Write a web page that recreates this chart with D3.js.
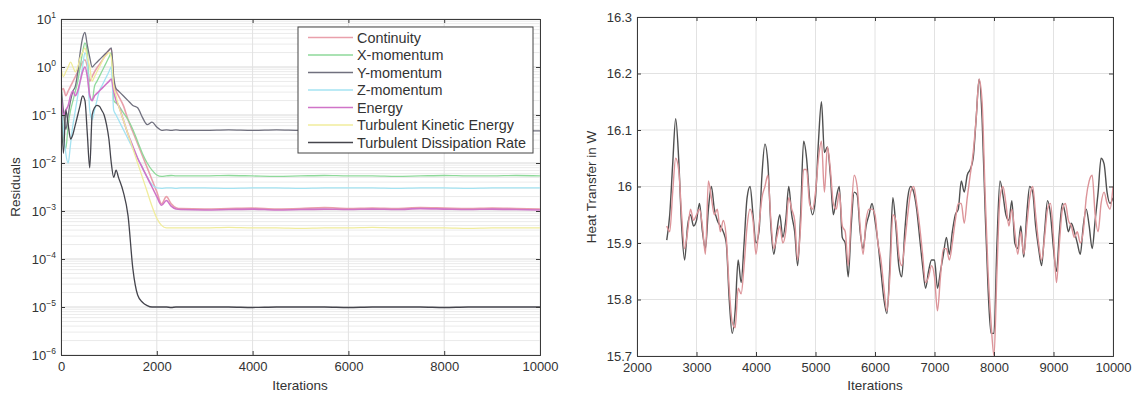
<!DOCTYPE html>
<html><head><meta charset="utf-8">
<script src="https://cdn.jsdelivr.net/npm/d3@7"></script>
<style>
html,body{margin:0;padding:0;background:#fff;}
svg{display:block;font-family:"Liberation Sans",Arial,sans-serif;}
</style></head>
<body>
<svg id="chart" width="1138" height="394"></svg>
<script>
// ---------- Left chart data (residuals, log10 of value) ----------
const resIter = [0,50,100,150,200,250,300,350,400,450,500,550,600,650,700,750,800,850,900,950,1000,1050,1100,1150,1200,
  1300,1400,1500,1600,1700,1800,1900,2000,2100,2200,2300,2400,2500,
  3000,3500,4000,4500,5000,5500,6000,6500,7000,7500,8000,8500,9000,9500,10000];
const continuityLog = [-0.5,-0.45,-0.6,-0.5,-0.4,-0.3,-0.2,-0.1,0.0,0.1,0.15,0.0,-0.3,-0.2,-0.1,-0.02,0.05,0.12,0.2,0.28,0.35,0.38,-0.3,-0.5,-0.6,
  -0.8,-1.1,-1.35,-1.6,-1.85,-2.1,-2.35,-2.6,-2.85,-2.7,-2.85,-2.93,-2.95,
  -2.96,-2.95,-2.94,-2.96,-2.95,-2.93,-2.95,-2.94,-2.95,-2.93,-2.94,-2.95,-2.94,-2.95,-2.96];
const xMomLog = [-0.1,-1.4,-1.7,-1.2,-0.9,-0.7,-0.5,-0.3,0.0,0.3,0.5,0.3,-0.6,-0.7,-0.4,-0.3,-0.2,-0.1,0.0,0.1,0.2,0.3,-0.7,-0.75,-0.8,
  -0.95,-1.1,-1.3,-1.55,-1.8,-2.0,-2.15,-2.25,-2.28,-2.27,-2.26,-2.27,-2.27,
  -2.27,-2.26,-2.27,-2.28,-2.27,-2.26,-2.27,-2.27,-2.28,-2.27,-2.26,-2.27,-2.27,-2.26,-2.27];
const yMomLog = [-0.4,-0.9,-1.3,-1.0,-0.7,-0.5,-0.4,-0.1,0.3,0.6,0.72,0.45,0.2,0.0,0.05,0.1,0.15,0.2,0.25,0.3,0.35,0.4,-0.2,-0.45,-0.5,
  -0.6,-0.7,-0.8,-0.85,-1.05,-1.2,-1.15,-1.25,-1.32,-1.31,-1.32,-1.31,-1.32,
  -1.32,-1.31,-1.32,-1.31,-1.32,-1.32,-1.31,-1.32,-1.33,-1.32,-1.32,-1.33,-1.32,-1.33,-1.33];
const zMomLog = [-0.8,-1.3,-1.8,-2.0,-1.6,-1.2,-0.9,-0.6,-0.3,0.0,0.3,0.1,-0.9,-1.1,-0.9,-0.7,-0.5,-0.4,-0.3,-0.2,-0.1,0.0,-0.9,-1.0,-1.1,
  -1.3,-1.5,-1.7,-1.9,-2.1,-2.3,-2.45,-2.52,-2.53,-2.52,-2.52,-2.53,-2.52,
  -2.52,-2.53,-2.52,-2.52,-2.53,-2.52,-2.52,-2.52,-2.53,-2.52,-2.52,-2.53,-2.52,-2.52,-2.52];
const energyLog = [-0.6,-1.0,-0.9,-0.8,-0.6,-0.5,-0.6,-0.5,-0.3,-0.1,0.0,-0.2,-0.6,-0.7,-0.6,-0.55,-0.5,-0.45,-0.4,-0.35,-0.3,-0.25,-0.5,-0.7,-0.8,
  -1.1,-1.4,-1.65,-1.9,-2.1,-2.3,-2.5,-2.7,-2.88,-2.78,-2.9,-2.96,-2.97,
  -2.98,-2.97,-2.96,-2.98,-2.97,-2.96,-2.97,-2.96,-2.97,-2.95,-2.96,-2.97,-2.96,-2.97,-2.98];
const tkeLog = [0.0,-0.2,-0.1,0.0,0.1,0.0,-0.1,0.0,0.2,0.3,0.4,0.2,0.0,-0.3,-0.2,-0.1,0.0,0.1,0.2,0.25,0.3,0.2,-0.4,-0.6,-0.8,
  -1.1,-1.4,-1.7,-2.0,-2.3,-2.6,-2.9,-3.15,-3.3,-3.35,-3.35,-3.35,-3.35,
  -3.35,-3.34,-3.35,-3.35,-3.36,-3.35,-3.35,-3.34,-3.35,-3.35,-3.35,-3.36,-3.35,-3.35,-3.35];
const tdrLog = [-0.6,-1.8,-0.9,-1.2,-1.5,-1.4,-1.2,-1.0,-0.8,-0.6,-0.7,-1.4,-2.1,-1.0,-0.85,-0.8,-0.82,-0.9,-1.0,-1.2,-1.5,-2.0,-2.3,-2.15,-2.3,
  -2.6,-3.1,-4.2,-4.75,-4.9,-4.97,-5.0,-5.0,-5.0,-5.0,-5.01,-5.0,-5.0,
  -5.0,-5.0,-5.01,-5.0,-5.0,-5.0,-5.01,-5.0,-5.0,-5.0,-5.01,-5.0,-5.0,-5.0,-5.0];
const seriesNames = ["Continuity","X-momentum","Y-momentum","Z-momentum","Energy","Turbulent Kinetic Energy","Turbulent Dissipation Rate"];
const seriesColors = ["#e9a0ab","#8ed99a","#70707e","#a4e3f2","#d074c8","#f0ec9c","#45454d"];
const seriesLogs = [continuityLog,xMomLog,yMomLog,zMomLog,energyLog,tkeLog,tdrLog];
const resXTicks = [0,2000,4000,6000,8000,10000];
const resYExps = [1,0,-1,-2,-3,-4,-5,-6];

// ---------- Right chart data (heat transfer) ----------
const htIter = d3.range(2500, 10001, 50);
const htDark = [15.905,15.95,16.04,16.12,16.05,15.93,15.87,15.93,15.95,15.93,15.94,15.97,15.92,15.89,15.96,16.0,15.96,15.94,15.93,15.92,
  15.90,15.80,15.74,15.78,15.87,15.83,15.90,15.98,16.0,15.95,15.90,15.92,16.02,16.075,16.04,15.93,15.88,15.92,15.95,15.91,
  15.94,16.0,15.95,15.92,15.86,15.95,16.08,16.05,15.98,15.95,15.98,16.08,16.15,16.06,16.07,16.02,15.95,15.98,16.0,15.91,
  15.90,15.84,15.93,15.99,15.985,15.92,15.89,15.93,15.95,15.97,15.94,15.90,15.85,15.80,15.775,15.86,15.98,15.93,15.86,15.84,
  15.92,15.98,16.0,15.99,15.96,15.91,15.86,15.82,15.85,15.87,15.87,15.82,15.85,15.88,15.91,15.88,15.92,15.95,15.96,16.01,
  15.99,16.02,16.03,16.05,16.12,16.19,16.12,15.96,15.82,15.74,15.74,15.90,16.01,15.985,15.95,15.94,15.975,15.90,15.89,15.93,
  15.875,15.95,16.0,15.99,15.93,15.89,15.86,15.92,15.975,15.95,15.89,15.85,15.92,15.97,15.95,15.92,15.935,15.92,15.90,15.88,
  15.93,15.96,15.93,15.89,15.94,15.99,16.05,16.04,15.99,15.97,15.98];
const htPink = [15.93,15.92,15.99,16.05,16.03,15.95,15.89,15.92,15.96,15.94,15.95,15.96,15.93,15.88,16.01,15.98,15.95,15.96,15.92,15.94,
  15.91,15.82,15.76,15.75,15.82,15.81,15.86,15.93,15.96,15.94,15.88,15.93,15.98,16.0,16.02,15.94,15.89,15.91,15.93,15.90,
  15.92,15.98,15.96,15.94,15.87,15.93,16.03,16.03,15.97,15.96,15.99,16.05,16.08,15.99,16.07,16.03,15.97,15.96,15.99,15.93,
  15.92,15.86,15.95,16.02,16.0,15.93,15.88,15.94,15.96,15.96,15.95,15.90,15.87,15.82,15.78,15.84,15.95,15.94,15.88,15.86,
  15.90,15.95,15.99,16.0,15.97,15.93,15.88,15.83,15.84,15.86,15.84,15.78,15.84,15.89,15.89,15.87,15.90,15.94,15.97,15.97,
  15.935,15.98,16.02,16.06,16.12,16.19,16.15,15.99,15.85,15.76,15.70,15.85,15.98,16.0,15.97,15.93,15.96,15.92,15.88,15.92,
  15.88,15.93,15.98,16.0,15.95,15.90,15.87,15.91,15.96,15.97,15.91,15.83,15.90,15.96,15.97,15.94,15.93,15.91,15.92,15.90,
  15.92,15.98,16.01,16.02,15.95,15.92,15.97,15.99,15.97,15.96,16.0];
const htXTicks = [2000,3000,4000,5000,6000,7000,8000,9000,10000];
const htYTicks = [15.7,15.8,15.9,16,16.1,16.2,16.3];

// ---------- Drawing ----------
const svg = d3.select("#chart");
const axisColor = "#3a3a3a", textColor = "#333", gridColor = "#e2e2e2";
const tickFont = "13px", labelFont = "13.5px";

// Left chart
const L = {x0:61, x1:540, y0:19, y1:355};
const xL = d3.scaleLinear().domain([0,10000]).range([L.x0,L.x1]);
const yL = d3.scaleLog().domain([1e-6,10]).range([L.y1,L.y0]);
const gL = svg.append("g");
// minor grid
const minorVals = [];
for (let e=-6; e<1; e++) for (let m=2; m<10; m++) minorVals.push(m*Math.pow(10,e));
gL.append("g").selectAll("line").data(minorVals).join("line")
  .attr("x1",L.x0).attr("x2",L.x1).attr("y1",d=>yL(d)).attr("y2",d=>yL(d))
  .attr("stroke","#ebebeb").attr("stroke-width",1);
gL.append("g").selectAll("line").data(resYExps).join("line")
  .attr("x1",L.x0).attr("x2",L.x1).attr("y1",d=>yL(Math.pow(10,d))).attr("y2",d=>yL(Math.pow(10,d)))
  .attr("stroke","#d8d8d8");
gL.append("g").selectAll("line").data(resXTicks).join("line")
  .attr("x1",d=>xL(d)).attr("x2",d=>xL(d)).attr("y1",L.y0).attr("y2",L.y1)
  .attr("stroke",gridColor);
svg.append("clipPath").attr("id","clipL").append("rect")
  .attr("x",L.x0).attr("y",L.y0).attr("width",L.x1-L.x0).attr("height",L.y1-L.y0);
const lineL = d3.line().x(d=>xL(d[0])).y(d=>yL(d[1])).curve(d3.curveMonotoneX);
const seriesData = seriesLogs.map(arr => resIter.map((it,i)=>[it, Math.pow(10, arr[i])]));
gL.append("g").attr("clip-path","url(#clipL)").selectAll("path").data(seriesData).join("path")
  .attr("d",lineL).attr("fill","none")
  .attr("stroke",(d,i)=>seriesColors[i]).attr("stroke-width",(d,i)=> i===4||i===0 ? 1.6 : 1.3);
// axes box
const axL = d3.axisBottom(xL).tickValues(resXTicks).tickSize(-4).tickPadding(7).tickFormat(d3.format("d"));
const gxL = gL.append("g").attr("transform",`translate(0,${L.y1})`).call(axL);
const gxLt = gL.append("g").attr("transform",`translate(0,${L.y0})`).call(d3.axisTop(xL).tickValues(resXTicks).tickSize(-4).tickFormat(""));
const ayL = d3.axisLeft(yL).tickValues(resYExps.map(e=>Math.pow(10,e))).tickSize(-4).tickFormat("");
const gyL = gL.append("g").attr("transform",`translate(${L.x0},0)`).call(ayL);
const gyLr = gL.append("g").attr("transform",`translate(${L.x1},0)`).call(d3.axisRight(yL).tickValues(resYExps.map(e=>Math.pow(10,e))).tickSize(-4).tickFormat(""));
[gxL,gxLt,gyL,gyLr].forEach(g=>{g.select(".domain").attr("stroke",axisColor);g.selectAll(".tick line").attr("stroke",axisColor);
  g.selectAll("text").attr("fill",textColor).style("font-size",tickFont).style("font-family","'Liberation Sans',Arial,sans-serif");});
// y labels with superscripts
const ylab = gL.append("g").selectAll("text").data(resYExps).join("text")
  .attr("x",L.x0-5).attr("y",d=>yL(Math.pow(10,d))+5).attr("text-anchor","end")
  .attr("fill",textColor).style("font-size",tickFont);
ylab.append("tspan").text("10");
ylab.append("tspan").attr("dy",-6).style("font-size","8.5px").text(d=>String(d).replace("-","\u2212"));
gL.append("text").attr("x",300).attr("y",390).attr("text-anchor","middle").attr("fill",textColor).style("font-size",labelFont).text("Iterations");
gL.append("text").attr("transform","translate(20,187) rotate(-90)").attr("text-anchor","middle").attr("fill",textColor).style("font-size",labelFont).text("Residuals");
// legend
const lg = gL.append("g");
lg.append("rect").attr("x",298).attr("y",27).attr("width",235).attr("height",126).attr("fill","#fff").attr("stroke","#444").attr("stroke-width",1);
const lgItems = lg.selectAll("g").data(seriesNames).join("g").attr("transform",(d,i)=>`translate(0,${37.5+i*17.5})`);
lgItems.append("line").attr("x1",308).attr("x2",353).attr("y1",0).attr("y2",0).attr("stroke",(d,i)=>seriesColors[i]).attr("stroke-width",1.4);
lgItems.append("text").attr("x",357).attr("y",5).attr("fill","#333").style("font-size","14.4px").text(d=>d);

// Right chart
const R = {x0:637, x1:1113, y0:17, y1:356};
const xR = d3.scaleLinear().domain([2000,10000]).range([R.x0,R.x1]);
const yR = d3.scaleLinear().domain([15.7,16.3]).range([R.y1,R.y0]);
const gR = svg.append("g");
gR.append("g").selectAll("line").data(htXTicks).join("line")
  .attr("x1",d=>xR(d)).attr("x2",d=>xR(d)).attr("y1",R.y0).attr("y2",R.y1).attr("stroke",gridColor);
gR.append("g").selectAll("line").data(htYTicks).join("line")
  .attr("x1",R.x0).attr("x2",R.x1).attr("y1",d=>yR(d)).attr("y2",d=>yR(d)).attr("stroke",gridColor);
svg.append("clipPath").attr("id","clipR").append("rect")
  .attr("x",R.x0).attr("y",R.y0).attr("width",R.x1-R.x0).attr("height",R.y1-R.y0);
const lineR = d3.line().x(d=>xR(d[0])).y(d=>yR(d[1])).curve(d3.curveMonotoneX);
const gRl = gR.append("g").attr("clip-path","url(#clipR)");
gRl.append("path").datum(htIter.map((it,i)=>[it,htDark[i]])).attr("d",lineR).attr("fill","none").attr("stroke","#505050").attr("stroke-width",1.4);
gRl.append("path").datum(htIter.map((it,i)=>[it,htPink[i]])).attr("d",lineR).attr("fill","none").attr("stroke","#dc9499").attr("stroke-width",1.4);
const gxR = gR.append("g").attr("transform",`translate(0,${R.y1})`).call(d3.axisBottom(xR).tickValues(htXTicks).tickSize(-4).tickPadding(7).tickFormat(d3.format("d")));
const gxRt = gR.append("g").attr("transform",`translate(0,${R.y0})`).call(d3.axisTop(xR).tickValues(htXTicks).tickSize(-4).tickFormat(""));
const gyR = gR.append("g").attr("transform",`translate(${R.x0},0)`).call(d3.axisLeft(yR).tickValues(htYTicks).tickSize(-4).tickPadding(5).tickFormat(d=>d3.format(".1f")(d).replace(/\.0$/,"")));
const gyRr = gR.append("g").attr("transform",`translate(${R.x1},0)`).call(d3.axisRight(yR).tickValues(htYTicks).tickSize(-4).tickFormat(""));
[gxR,gxRt,gyR,gyRr].forEach(g=>{g.select(".domain").attr("stroke",axisColor);g.selectAll(".tick line").attr("stroke",axisColor);
  g.selectAll("text").attr("fill",textColor).style("font-size",tickFont).style("font-family","'Liberation Sans',Arial,sans-serif");});
gR.append("text").attr("x",875).attr("y",390).attr("text-anchor","middle").attr("fill",textColor).style("font-size",labelFont).text("Iterations");
gR.append("text").attr("transform","translate(596,187) rotate(-90)").attr("text-anchor","middle").attr("fill",textColor).style("font-size",labelFont).text("Heat Transfer in W");
</script>
</body></html>
